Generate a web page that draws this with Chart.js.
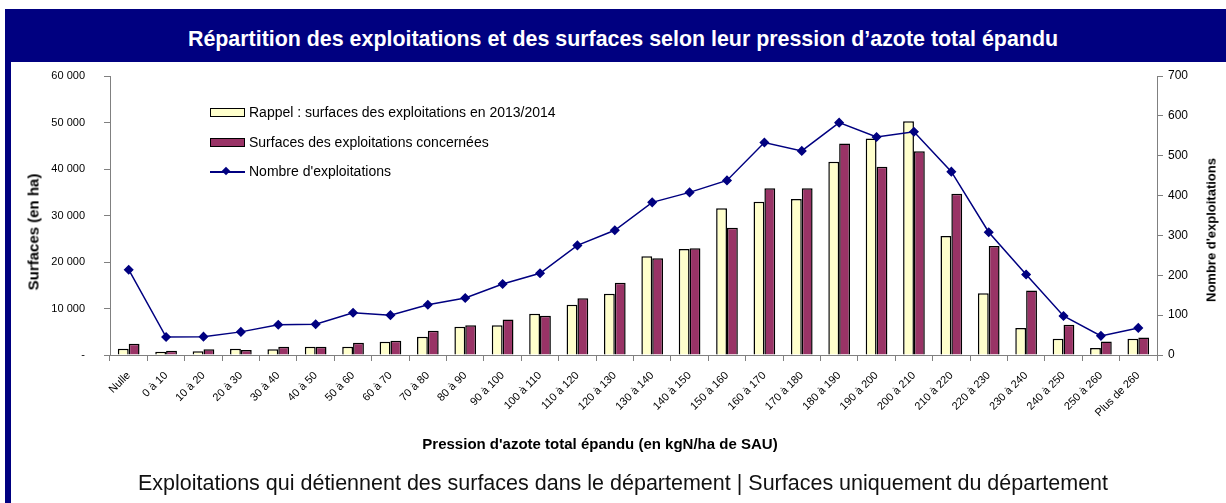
<!DOCTYPE html>
<html>
<head>
<meta charset="utf-8">
<script src="https://cdn.jsdelivr.net/npm/chart.js@4"></script>
<style>
  body { margin: 0; width: 1226px; height: 503px; position: relative; background: #fff; overflow: hidden; font-family: "Liberation Sans", Arial, sans-serif; }
  #chart { position: absolute; left: 0; top: 0; }
  .stripe { position: absolute; left: 5px; top: 9px; width: 6px; height: 494px; background: #000080; }
  .header { position: absolute; left: 5px; top: 9px; width: 1206px; padding-left: 15px; padding-top: 8px; height: 45px; background: #000080;
            color: #fff; font-weight: bold; font-size: 21.4px; line-height: 45px; text-align: center; }
  .subtitle { position: absolute; left: 20px; width: 1206px; top: 470px; font-size: 21.5px; line-height: 26px; text-align: center; color: #111; }
  .xtitle { position: absolute; left: 300px; width: 600px; top: 435px; font-size: 15px; font-weight: bold; text-align: center; }
  .ytitle { position: absolute; font-weight: bold; white-space: nowrap; transform: translate(-50%, -50%) rotate(-90deg); }
  .legend { position: absolute; left: 210px; font-size: 14px; }
  .legend div { position: relative; height: 30px; }
  .legend .box { position: absolute; left: 0; width: 33px; height: 7px; border: 1px solid #000; top: -5px; }
  .legend .txt { position: absolute; left: 39px; top: -9px; white-space: nowrap; }
</style>
</head>
<body>
<canvas id="chart" width="1226" height="503"></canvas>
<div class="stripe"></div>
<div class="header">Répartition des exploitations et des surfaces selon leur pression d’azote total épandu</div>
<div class="ytitle" style="left:33px; top:232px; font-size:15px;">Surfaces (en ha)</div>
<div class="ytitle" style="left:1211px; top:230px; font-size:13px;">Nombre d'exploitations</div>
<div class="xtitle">Pression d'azote total épandu (en kgN/ha de SAU)</div>
<div class="subtitle">Exploitations qui détiennent des surfaces dans le département | Surfaces uniquement du département</div>
<div class="legend" style="top:113px;">
  <div><span class="box" style="background:#FFFFCC"></span><span class="txt">Rappel : surfaces des exploitations en 2013/2014</span></div>
</div>
<div class="legend" style="top:143px;">
  <div><span class="box" style="background:#993366"></span><span class="txt">Surfaces des exploitations concernées</span></div>
</div>
<div class="legend" style="top:172px;">
  <div>
    <span style="position:absolute;left:0;top:-1px;width:35px;height:2px;background:#000080"></span>
    <span style="position:absolute;left:13px;top:-4px;width:6px;height:6px;background:#000080;transform:rotate(45deg)"></span>
    <span class="txt">Nombre d'exploitations</span>
  </div>
</div>
<script>
// categories de pression d'azote
const categories = ['Nulle', '0 à 10', '10 à 20', '20 à 30', '30 à 40', '40 à 50', '50 à 60', '60 à 70',
  '70 à 80', '80 à 90', '90 à 100', '100 à 110', '110 à 120', '120 à 130', '130 à 140', '140 à 150',
  '150 à 160', '160 à 170', '170 à 180', '180 à 190', '190 à 200', '200 à 210', '210 à 220', '220 à 230',
  '230 à 240', '240 à 250', '250 à 260', 'Plus de 260'];

// surfaces (ha) - rappel 2013/2014
const surfacesRappel = [1330, 690, 820, 1330, 1250, 1760, 1760, 2840, 3910, 6060, 6410, 8860, 10800, 13160,
  21250, 22810, 31550, 32970, 33550, 41550, 46570, 50280, 25600, 13300, 5790, 3500, 1500, 3500];

// surfaces (ha) - exploitations concernees
const surfacesConcernees = [2400, 900, 1250, 1100, 1760, 1760, 2620, 3050, 5200, 6410, 7630, 8430, 12230, 15520,
  20820, 22960, 27390, 35840, 35840, 45500, 40480, 43840, 34680, 23460, 13860, 6500, 2920, 3780];

// nombre d'exploitations
const nbExploitations = [214, 45, 46, 58, 76, 77, 106, 100, 126, 143, 178, 205, 275, 313,
  383, 408, 438, 533, 512, 583, 547, 560, 460, 308, 202, 98, 48, 68];

// ticks des axes
const surfaceTicks = [0, 10000, 20000, 30000, 40000, 50000, 60000];
const nombreTicks = [0, 100, 200, 300, 400, 500, 600, 700];

function formatSurface(v) {
  if (v === 0) return '-';
  return String(v).replace(/\B(?=(\d{3})+(?!\d))/g, ' ');
}

Chart.defaults.font.family = '"Liberation Sans", Arial, sans-serif';
Chart.defaults.color = '#000';

const axisGrey = '#808080';

var ctx = document.getElementById('chart').getContext('2d');
var chart = new Chart(ctx, {
  type: 'bar',
  data: {
    labels: categories,
    datasets: [
      {
        type: 'line',
        label: "Nombre d'exploitations",
        data: nbExploitations,
        yAxisID: 'y1',
        borderColor: '#000080',
        backgroundColor: '#000080',
        borderWidth: 1.5,
        pointStyle: 'rectRot',
        pointRadius: 4,
        pointHoverRadius: 4,
        tension: 0,
        order: 0
      },
      {
        label: 'Rappel : surfaces des exploitations en 2013/2014',
        data: surfacesRappel,
        yAxisID: 'y',
        backgroundColor: '#FFFFCC',
        borderColor: '#000',
        borderWidth: 1.5,
        categoryPercentage: 0.58,
        barPercentage: 1,
        order: 1
      },
      {
        label: 'Surfaces des exploitations concernées',
        data: surfacesConcernees,
        yAxisID: 'y',
        backgroundColor: '#993366',
        borderColor: '#000',
        borderWidth: 1.5,
        categoryPercentage: 0.58,
        barPercentage: 1,
        order: 1
      }
    ]
  },
  options: {
    responsive: false,
    animation: false,
    devicePixelRatio: 1,
    layout: { padding: { top: 76, bottom: 43, left: 12, right: 0 } },
    plugins: { legend: { display: false }, tooltip: { enabled: false } },
    scales: {
      x: {
        offset: true,
        grid: { drawOnChartArea: false, offset: true, tickLength: 6, color: axisGrey },
        border: { color: axisGrey },
        ticks: { minRotation: 45, maxRotation: 45, autoSkip: false, font: { size: 11 }, padding: 8 },
        afterFit: function (scale) { scale.height = 105; }
      },
      y: {
        position: 'left',
        min: 0,
        max: 60000,
        afterBuildTicks: function (scale) { scale.ticks = surfaceTicks.map(v => ({ value: v })); },
        grid: { drawOnChartArea: false, tickLength: 6, color: axisGrey },
        border: { color: axisGrey },
        ticks: { font: { size: 11 }, padding: 19, callback: formatSurface },
        afterFit: function (scale) { scale.width = 98; }
      },
      y1: {
        position: 'right',
        min: 0,
        max: 700,
        afterBuildTicks: function (scale) { scale.ticks = nombreTicks.map(v => ({ value: v })); },
        grid: { drawOnChartArea: false, tickLength: 6, color: axisGrey },
        border: { color: axisGrey },
        ticks: { font: { size: 12 }, padding: 5 },
        afterFit: function (scale) { scale.width = 69; }
      }
    }
  }
});
</script>
</body>
</html>
